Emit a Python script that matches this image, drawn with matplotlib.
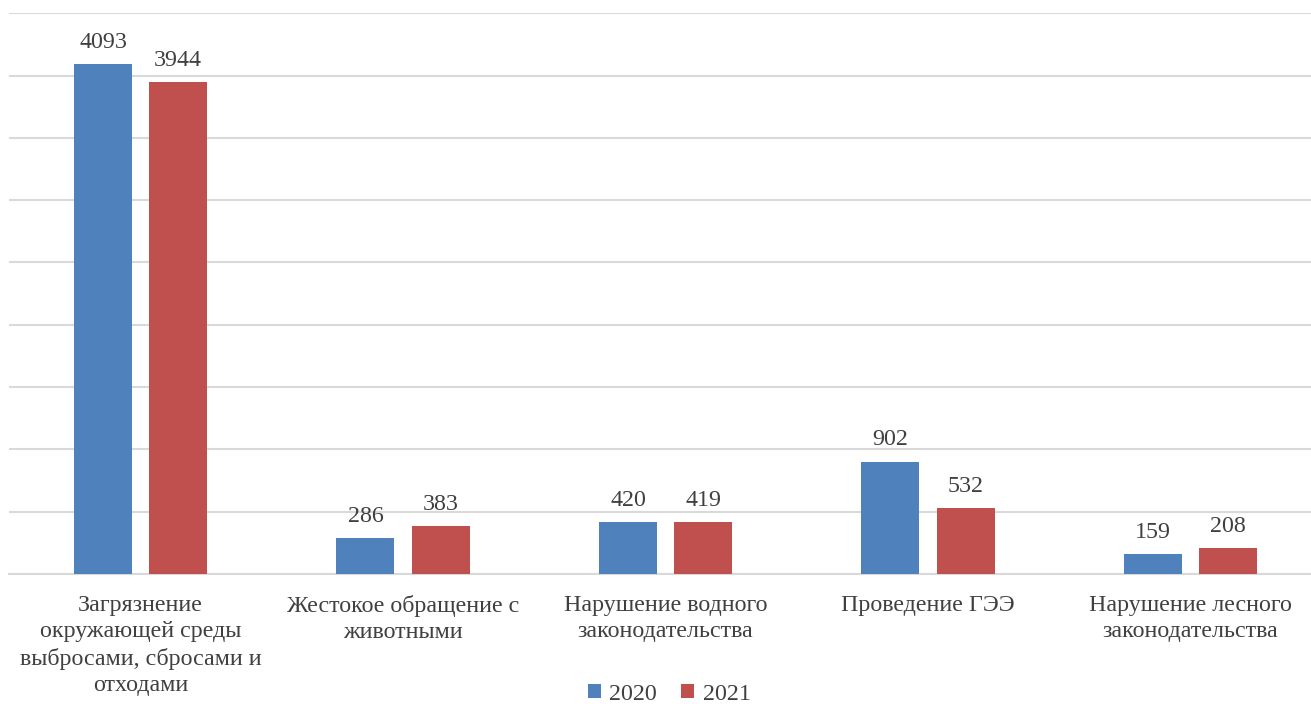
import matplotlib
matplotlib.use("Agg")
import matplotlib.pyplot as plt
import numpy as np

categories = [
    "Загрязнение\nокружающей среды\nвыбросами, сбросами и\nотходами",
    "Жестокое обращение с\nживотными",
    "Нарушение водного\nзаконодательства",
    "Проведение ГЭЭ",
    "Нарушение лесного\nзаконодательства",
]
series_names = ["2020", "2021"]
values_2020 = [4093, 286, 420, 902, 159]
values_2021 = [3944, 383, 419, 532, 208]

plt.rcParams['font.family'] = ['Liberation Serif', 'DejaVu Serif']
txt = '#404040'
fs = 17.3

fig = plt.figure(figsize=(13.11, 7.04), dpi=100)
W, H = 1311, 704
ax = fig.add_axes([9.25 / W, (H - 574) / H, 1312.5 / W, (574 - 13.2) / H])

x = np.arange(len(categories))
bw = 0.221
off = 0.143
b1 = ax.bar(x - off, values_2020, bw, color='#4F81BD', label=series_names[0], zorder=3)
b2 = ax.bar(x + off, values_2021, bw, color='#C0504D', label=series_names[1], zorder=3)

for bars, vals in ((b1, values_2020), (b2, values_2021)):
    for r, v in zip(bars, vals):
        ax.annotate(str(v), (r.get_x() + r.get_width() / 2, v), xytext=(0, 8),
                    textcoords='offset points', ha='center', va='bottom',
                    fontsize=fs, color=txt)

ax.set_xlim(-0.5, len(categories) - 0.5)
ax.set_ylim(0, 4500)
ax.set_yticks(np.arange(0, 4501, 500))
ax.yaxis.grid(True, color='#D9D9D9', linewidth=1.5, zorder=0)
ax.tick_params(axis='y', left=False, labelleft=False)
ax.set_xticks(x)
ax.set_xticklabels(categories, fontsize=fs, color=txt, linespacing=1.33)
ax.tick_params(axis='x', length=0, pad=15)
for s in ['top', 'right', 'left']:
    ax.spines[s].set_visible(False)
ax.spines['bottom'].set_color('#D9D9D9')
ax.spines['bottom'].set_linewidth(1.5)

leg = fig.legend(handles=[b1, b2], labels=series_names, loc='center',
                 bbox_to_anchor=(669 / W, 1 - 694 / H), ncol=2, frameon=False,
                 fontsize=fs, handlelength=0.55, handleheight=0.55,
                 handletextpad=0.35, columnspacing=1.0, labelcolor=txt)

fig.savefig('out.png', dpi=100)
